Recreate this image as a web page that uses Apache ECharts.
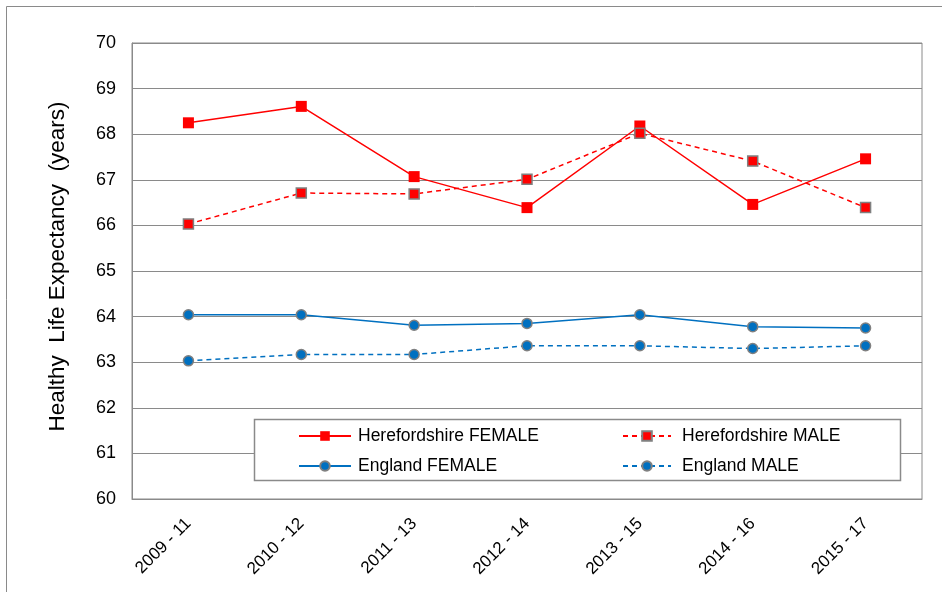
<!DOCTYPE html>
<html>
<head>
<meta charset="utf-8">
<script src="https://cdn.jsdelivr.net/npm/echarts@6/dist/echarts.min.js"></script>
<style>html,body{margin:0;padding:0;background:#fff;}#c{width:942px;height:592px;}</style>
</head>
<body>
<div id="c"></div>
<script>
const categories = ['2009 - 11','2010 - 12','2011 - 13','2012 - 14','2013 - 15','2014 - 16','2015 - 17'];
const herefordFemale = [68.25, 68.61, 67.07, 66.39, 68.18, 66.46, 67.46];
const herefordMale   = [66.03, 66.71, 66.69, 67.01, 68.02, 67.41, 66.39];
const englandFemale  = [64.04, 64.04, 63.81, 63.85, 64.04, 63.78, 63.75];
const englandMale    = [63.03, 63.17, 63.17, 63.36, 63.36, 63.30, 63.36];
const yTicks = [60, 61, 62, 63, 64, 65, 66, 67, 68, 69, 70];

const FONT = "'Liberation Sans', Arial, sans-serif";
const GRAY = '#8a8a8a';
const RED = '#ff0000';
const BLUE = '#0070c0';

const chart = echarts.init(document.getElementById('c'), null, {renderer: 'canvas'});
const legendText = {fontSize: 17.5, color: '#000', fontFamily: FONT, lineHeight: 18};
chart.setOption({
  animation: false,
  backgroundColor: '#fff',
  textStyle: {fontFamily: FONT},
  grid: {left: 132, right: 20, top: 43, bottom: 93, show: true, borderColor: GRAY, borderWidth: 1, containLabel: false},
  xAxis: {
    type: 'category', data: categories, boundaryGap: true,
    axisLine: {lineStyle: {color: GRAY, width: 1}},
    axisTick: {show: false},
    axisLabel: {rotate: 45, fontSize: 17, color: '#000', margin: 22, fontFamily: FONT}
  },
  yAxis: {
    type: 'value', min: yTicks[0], max: yTicks[yTicks.length - 1], interval: 1,
    name: 'Healthy  Life Expectancy  (years)', nameLocation: 'middle', nameGap: 63, nameRotate: 90,
    nameTextStyle: {fontSize: 22.5, color: '#000', fontFamily: FONT, padding: [0, 0, 0, 9]},
    axisLine: {show: true, lineStyle: {color: GRAY, width: 1}},
    axisTick: {show: false},
    axisLabel: {fontSize: 18, color: '#000', margin: 16, fontFamily: FONT},
    splitLine: {lineStyle: {color: GRAY, width: 1}}
  },
  graphic: [
    {type: 'rect', shape: {x: 6.5, y: 6.5, width: 1000, height: 1000}, style: {fill: 'none', stroke: GRAY, lineWidth: 1}, z: 1},
    {type: 'rect', shape: {x: 254.5, y: 419.5, width: 646, height: 61}, style: {fill: '#fff', stroke: GRAY, lineWidth: 1.5}, z: 10}
  ],
  legend: [
    {data: ['Herefordshire FEMALE', 'England FEMALE'], orient: 'vertical', left: 293, top: 422, itemGap: 12, itemWidth: 52, itemHeight: 12, z: 20,
      textStyle: Object.assign({padding: [0, 0, 0, 2]}, legendText)},
    {data: ['Herefordshire MALE', 'England MALE'], orient: 'vertical', left: 617, top: 422, itemGap: 12, itemWidth: 48, itemHeight: 12, z: 20,
      textStyle: Object.assign({padding: [0, 0, 0, 6]}, legendText)}
  ],
  series: [
    {name: 'Herefordshire FEMALE', type: 'line', data: herefordFemale, symbol: 'rect', symbolSize: 11,
      lineStyle: {color: RED, width: 1.5}, itemStyle: {color: RED}},
    {name: 'Herefordshire MALE', type: 'line', data: herefordMale, symbol: 'rect', symbolSize: 10,
      lineStyle: {color: RED, width: 1.5, type: [5, 4]}, itemStyle: {color: RED, borderColor: '#808080', borderWidth: 1.5}},
    {name: 'England FEMALE', type: 'line', data: englandFemale, symbol: 'circle', symbolSize: 10,
      lineStyle: {color: BLUE, width: 1.5}, itemStyle: {color: BLUE, borderColor: '#808080', borderWidth: 1.5}},
    {name: 'England MALE', type: 'line', data: englandMale, symbol: 'circle', symbolSize: 10,
      lineStyle: {color: BLUE, width: 1.5, type: [5, 4]}, itemStyle: {color: BLUE, borderColor: '#808080', borderWidth: 1.5}}
  ]
});
</script>
</body>
</html>
